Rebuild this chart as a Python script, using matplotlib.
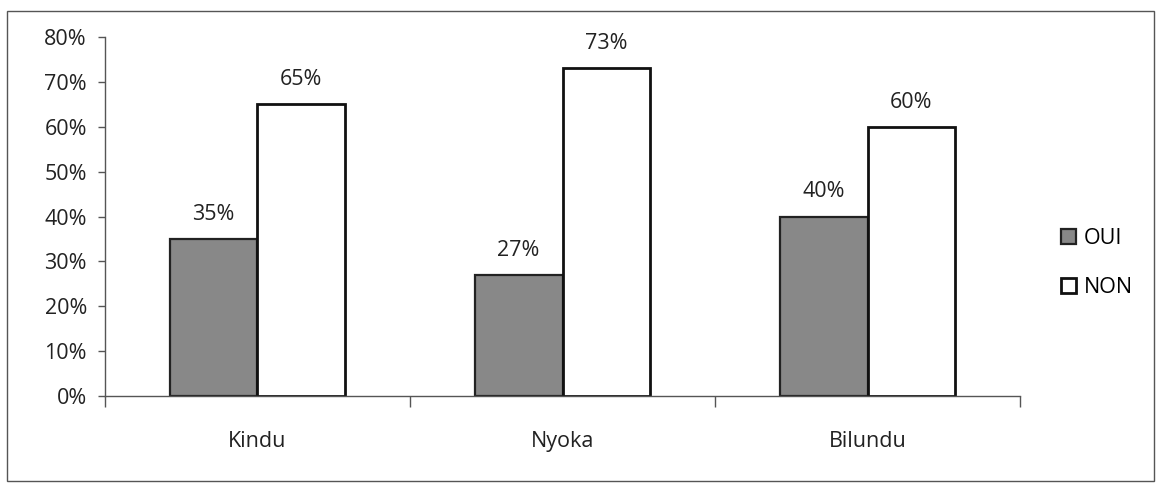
import matplotlib
matplotlib.use("Agg")
import matplotlib.pyplot as plt
import numpy as np
from matplotlib.patches import Rectangle

categories = ["Kindu", "Nyoka", "Bilundu"]
oui = [35, 27, 40]
non = [65, 73, 60]
yticks = [0, 10, 20, 30, 40, 50, 60, 70, 80]

plt.rcParams['font.family'] = ['Open Sans', 'DejaVu Sans']

fig = plt.figure(figsize=(11.61, 4.88), dpi=100)
fig.patch.set_facecolor("white")

# outer chart frame
fig.patches.append(Rectangle((0.006, 0.015), 0.988, 0.963, transform=fig.transFigure,
                             fill=False, edgecolor="#555555", linewidth=1.0))

ax = fig.add_axes([0.0904, 0.1885, 0.7882, 0.7355])

x = np.arange(len(categories))
w = 0.288
ax.bar(x - w / 2, oui, w, color="#888888", edgecolor="#222222", linewidth=1.6, label="OUI")
ax.bar(x + w / 2, non, w, color="white", edgecolor="#111111", linewidth=2.0, label="NON")

for xi, v in zip(x, oui):
    ax.text(xi - w / 2, v + 5.5, f"{v}%", ha="center", va="center", fontsize=15.5, color="#222222")
for xi, v in zip(x, non):
    ax.text(xi + w / 2, v + 5.5, f"{v}%", ha="center", va="center", fontsize=15.5, color="#222222")

ax.set_xlim(-0.5, len(categories) - 0.5)
ax.set_ylim(0, 80)
ax.set_yticks(yticks)
ax.set_yticklabels([f"{t}%" for t in yticks], fontsize=15.5, color="#222222")

ax.set_xticks(x)
ax.set_xticklabels(categories, fontsize=15.5, color="#222222")
ax.tick_params(axis="x", which="major", length=0, pad=25)
ax.set_xticks(np.arange(-0.5, len(categories)), minor=True)
ax.tick_params(axis="x", which="minor", length=8, width=1, color="#555555", direction="out")
ax.tick_params(axis="y", length=5, width=1, color="#555555", pad=8)

for side in ["top", "right"]:
    ax.spines[side].set_visible(False)
for side in ["left", "bottom"]:
    ax.spines[side].set_color("#555555")
    ax.spines[side].set_linewidth(1.0)

ax.legend(loc="center left", bbox_to_anchor=(1.024, 0.37), frameon=False, fontsize=15.5,
          handlelength=0.7, handleheight=0.7, handletextpad=0.35, labelspacing=1.3)

fig.savefig("out.png", dpi=100)
